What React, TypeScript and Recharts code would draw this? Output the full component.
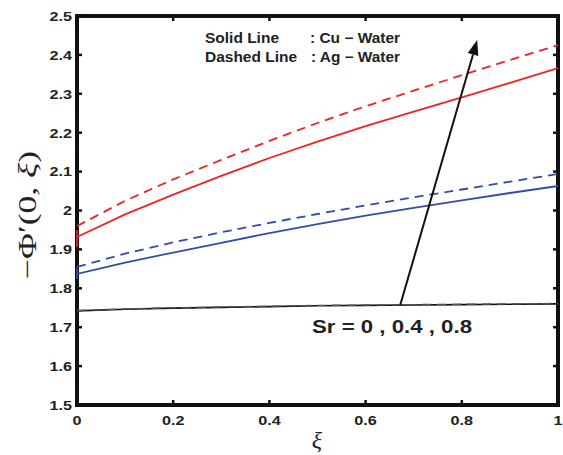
import React from 'react';
import { LineChart, Line, XAxis, YAxis, ReferenceArea, ReferenceLine } from 'recharts';

// similarity variable ξ and -Φ'(0, ξ) for each Sr
const xi = [0, 0.1, 0.2, 0.3, 0.4, 0.5, 0.6, 0.7, 0.8, 0.9, 1];

const cuSr0 = [1.742, 1.746, 1.749, 1.751, 1.753, 1.755, 1.756, 1.757, 1.758, 1.759, 1.760];
const agSr0 = [1.743, 1.747, 1.750, 1.752, 1.754, 1.756, 1.757, 1.758, 1.759, 1.760, 1.761];
const cuSr04 = [1.837, 1.866, 1.892, 1.917, 1.942, 1.965, 1.987, 2.007, 2.026, 2.045, 2.063];
const agSr04 = [1.855, 1.889, 1.918, 1.944, 1.968, 1.991, 2.013, 2.034, 2.054, 2.074, 2.094];
const cuSr08 = [1.932, 1.990, 2.041, 2.089, 2.135, 2.177, 2.217, 2.254, 2.291, 2.328, 2.366];
const agSr08 = [1.960, 2.025, 2.080, 2.130, 2.179, 2.225, 2.268, 2.308, 2.348, 2.387, 2.425];

// start-up jump of the solver at ξ = 0 (solid lines only)
const cuJumpSr04 = [1.852, 1.824];
const cuJumpSr08 = [1.950, 1.906];

const xTicks = [0, 0.2, 0.4, 0.6, 0.8, 1];
const yTicks = [1.5, 1.6, 1.7, 1.8, 1.9, 2, 2.1, 2.2, 2.3, 2.4, 2.5];

// arrow across the Sr family: tail, head
const arrowXi = [0.672, 0.832];
const arrowVal = [1.757, 2.438];

const W = 563;
const H = 455;
const PLOT_LEFT = 77;
const PLOT_RIGHT = 558;
const PLOT_TOP = 16;
const PLOT_BOTTOM = 405;

const RED = '#ee2326';
const BLUE = '#2f4ea6';
const BLACK = '#111111';

const toPoints = (vals: number[], jump: number[] = []) => [
  ...jump.map((v) => ({ xi: 0, v })),
  ...xi.map((x, i) => ({ xi: x, v: vals[i] })),
];

const fmt = (v: number) => (v === 0 || v === 1 || v === 2 ? String(v) : v.toFixed(1));

const tickFont = "'Liberation Sans', Arial, sans-serif";

const YTick = (props: any) => {
  const { y, payload } = props;
  return (
    <g>
      <text
        transform={`translate(${PLOT_LEFT - 5},${y}) scale(1.2,1)`}
        textAnchor="end"
        dy="0.36em"
        fontFamily={tickFont}
        fontWeight="bold"
        fontSize={13.5}
        fill="#222"
      >
        {fmt(payload.value)}
      </text>
      <line x1={PLOT_LEFT} x2={PLOT_LEFT + 5} y1={y} y2={y} stroke={BLACK} strokeWidth={2.5} />
      <line x1={PLOT_RIGHT - 5} x2={PLOT_RIGHT} y1={y} y2={y} stroke={BLACK} strokeWidth={2.5} />
    </g>
  );
};

const XTick = (props: any) => {
  const { x, payload } = props;
  return (
    <g>
      <text
        transform={`translate(${x},${PLOT_BOTTOM + 20}) scale(1.2,1)`}
        textAnchor="middle"
        fontFamily={tickFont}
        fontWeight="bold"
        fontSize={13.5}
        fill="#222"
      >
        {fmt(payload.value)}
      </text>
      <line x1={x} x2={x} y1={PLOT_BOTTOM - 5} y2={PLOT_BOTTOM} stroke={BLACK} strokeWidth={2.5} />
      <line x1={x} x2={x} y1={PLOT_TOP} y2={PLOT_TOP + 5} stroke={BLACK} strokeWidth={2.5} />
    </g>
  );
};

const ArrowShape = (props: any) => {
  const { x1, y1, x2, y2 } = props;
  const ang = Math.atan2(y2 - y1, x2 - x1);
  const len = 15;
  const half = 5.5;
  const bx = x2 - len * Math.cos(ang);
  const by = y2 - len * Math.sin(ang);
  const px = -Math.sin(ang) * half;
  const py = Math.cos(ang) * half;
  return (
    <g>
      <line x1={x1} y1={y1} x2={bx} y2={by} stroke={BLACK} strokeWidth={2} />
      <polygon points={`${x2},${y2} ${bx + px},${by + py} ${bx - px},${by - py}`} fill={BLACK} />
    </g>
  );
};

export default function App() {
  return (
    <div style={{ position: 'absolute', left: 0, top: 0, width: W, height: H, background: '#fff' }}>
      <LineChart
        width={W}
        height={H}
        margin={{ top: PLOT_TOP, right: W - PLOT_RIGHT, bottom: 0, left: 0 }}
      >
        <XAxis
          type="number"
          dataKey="xi"
          domain={[0, 1]}
          ticks={xTicks}
          height={H - PLOT_BOTTOM}
          axisLine={false}
          tickLine={false}
          tick={<XTick />}
          allowDuplicatedCategory={false}
        />
        <YAxis
          type="number"
          dataKey="v"
          domain={[1.5, 2.5]}
          ticks={yTicks}
          width={PLOT_LEFT}
          axisLine={false}
          tickLine={false}
          tick={<YTick />}
        />
        <Line data={toPoints(cuSr0)} dataKey="v" stroke={BLACK} strokeWidth={1.6} dot={false} isAnimationActive={false} />
        <Line data={toPoints(agSr0)} dataKey="v" stroke="#555" strokeWidth={1.4} strokeDasharray="9 6" dot={false} isAnimationActive={false} />
        <Line data={toPoints(cuSr04, cuJumpSr04)} dataKey="v" stroke={BLUE} strokeWidth={1.8} dot={false} isAnimationActive={false} />
        <Line data={toPoints(agSr04)} dataKey="v" stroke={BLUE} strokeWidth={1.8} strokeDasharray="9 6" dot={false} isAnimationActive={false} />
        <Line data={toPoints(cuSr08, cuJumpSr08)} dataKey="v" stroke={RED} strokeWidth={1.8} dot={false} isAnimationActive={false} />
        <Line data={toPoints(agSr08)} dataKey="v" stroke={RED} strokeWidth={1.8} strokeDasharray="9 6" dot={false} isAnimationActive={false} />
        <ReferenceLine
          segment={[
            { x: arrowXi[0], y: arrowVal[0] },
            { x: arrowXi[1], y: arrowVal[1] },
          ]}
          ifOverflow="visible"
          shape={ArrowShape}
        />
        <ReferenceArea
          x1={0}
          x2={1}
          y1={1.5}
          y2={2.5}
          fill="none"
          fillOpacity={0}
          stroke={BLACK}
          strokeWidth={4}
          ifOverflow="visible"
        />
      </LineChart>
      <svg
        width={W}
        height={H}
        style={{ position: 'absolute', left: 0, top: 0, pointerEvents: 'none' }}
      >
        <g fontFamily={tickFont} fontWeight="bold" fontSize={14} fill="#222">
          <text x={205} y={43} textLength={74} lengthAdjust="spacingAndGlyphs">Solid Line</text>
          <text x={310} y={43} textLength={90} lengthAdjust="spacingAndGlyphs">: Cu − Water</text>
          <text x={205} y={62} textLength={92} lengthAdjust="spacingAndGlyphs">Dashed Line</text>
          <text x={311} y={62} textLength={89} lengthAdjust="spacingAndGlyphs">: Ag − Water</text>
          <text x={312} y={333} fontSize={18} textLength={160} lengthAdjust="spacingAndGlyphs">
            Sr = 0 , 0.4 , 0.8
          </text>
        </g>
        <text
          transform="translate(36,215) rotate(-90)"
          textAnchor="middle"
          fontFamily="'Liberation Serif', 'Times New Roman', serif"
          fontSize={26}
          fill="#222"
          textLength={128}
          lengthAdjust="spacingAndGlyphs"
        >
          −Φ′(0, <tspan fontStyle="italic">ξ</tspan>)
        </text>
        <text
          x={317}
          y={448}
          textAnchor="middle"
          fontFamily="'Liberation Serif', 'Times New Roman', serif"
          fontStyle="italic"
          fontSize={24}
          fill="#222"
        >
          ξ
        </text>
      </svg>
    </div>
  );
}
